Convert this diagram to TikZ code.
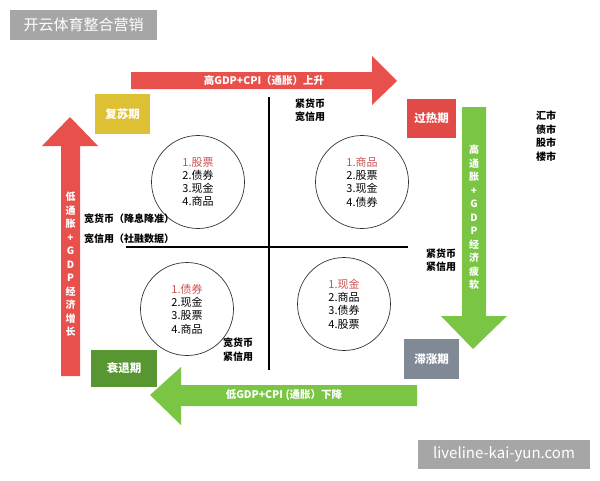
\documentclass[tikz,border=0pt]{standalone}
\usepackage{fontspec}
\setmainfont{Noto Sans CJK SC}
\usetikzlibrary{positioning}
\definecolor{arrowRed}{RGB}{232,80,76}
\definecolor{arrowGreen}{RGB}{122,198,68}
\definecolor{boxYellow}{RGB}{222,192,52}
\definecolor{boxRed}{RGB}{226,74,72}
\definecolor{boxGreen}{RGB}{88,150,50}
\definecolor{boxGray}{RGB}{128,138,150}
\definecolor{tagGray}{RGB}{166,166,166}
\definecolor{topRed}{RGB}{205,80,80}

\tikzset{
  stage/.style={inner sep=0pt, text=white, font=\bfseries\fontsize{11.5}{13}\selectfont},
  ring/.style={circle, draw=black!80, line width=0.7pt, minimum size=93pt, inner sep=0pt},
  asset/.style={align=center, font=\fontsize{11}{13.2}\selectfont},
  note/.style={align=left, font=\bfseries\fontsize{10}{13.5}\selectfont, inner sep=0pt},
  vtext/.style={align=center, text=white, font=\bfseries\fontsize{10}{13.5}\selectfont},
  htext/.style={text=white, font=\bfseries\fontsize{10.5}{11}\selectfont},
  tag/.style={fill=tagGray, text=white, inner sep=0pt}
}

\begin{document}
\begin{tikzpicture}[x=1pt, y=-1pt, line join=round]
\useasboundingbox (0,0) rectangle (600,480);
\fill[white] (0,0) rectangle (600,480);

% header and watermark tags
\node[tag, minimum width=147pt, minimum height=30pt, font=\fontsize{15}{16}\selectfont] (header) at (83.5,25) {开云体育整合营销};
\node[tag, minimum width=172pt, minimum height=29pt, font=\fontsize{15}{16}\selectfont] (site) at (504,454.5) {liveline-kai-yun.com};

% cycle arrows
\fill[arrowRed] (131,72) -- (372,72) -- (372,56) -- (397,81) -- (372,105) -- (372,89) -- (131,89) -- cycle;
\fill[arrowGreen] (462,107) -- (486,107) -- (486,316) -- (507,316) -- (473,349) -- (441,316) -- (462,316) -- cycle;
\fill[arrowGreen] (417,385) -- (181,385) -- (181,367) -- (150,395) -- (181,425) -- (181,406) -- (417,406) -- cycle;
\fill[arrowRed] (61,376) -- (61,146) -- (42,146) -- (70,117) -- (98,146) -- (80,146) -- (80,376) -- cycle;

\node[htext] (upLabel) at (264,80.5) {高GDP+CPI（通胀）上升};
\node[htext] (downLabel) at (284,395.5) {低GDP+CPI (通胀）下降};
\node[vtext] (rightLabel) at (474,217.5) {高\\通\\胀\\+\\G\\D\\P\\经\\济\\疲\\软};
\node[vtext] (leftLabel) at (70.5,264.5) {低\\通\\胀\\+\\G\\D\\P\\经\\济\\增\\长};

% stages
\node[stage, fill=boxYellow, minimum width=55pt, minimum height=40pt] (recovery) at (122.5,114) {复苏期};
\node[stage, fill=boxRed, minimum width=49pt, minimum height=39pt] (overheat) at (431.5,118.5) {过热期};
\node[stage, fill=boxGray, minimum width=55pt, minimum height=40pt] (stagflation) at (431.5,359) {滞涨期};
\node[stage, fill=boxGreen, minimum width=66pt, minimum height=37pt] (recession) at (124,368.5) {衰退期};

% axes
\coordinate (axTop) at (269,97);
\coordinate (axBottom) at (269,370);
\coordinate (axLeft) at (126,247);
\coordinate (axRight) at (408,247);
\draw[line width=1.1pt] (axTop) -- (axBottom);
\draw[line width=1.1pt] (axLeft) -- (axRight);

% quadrants
\node[ring] (ringTL) at (198,182) {};
\node[ring] (ringTR) at (362,182) {};
\node[ring] (ringBL) at (187,309) {};
\node[ring] (ringBR) at (344,304) {};
\node[asset] (assetTL) at (ringTL) {\textcolor{topRed}{1.股票}\\2.债券\\3.现金\\4.商品};
\node[asset] (assetTR) at (ringTR) {\textcolor{topRed}{1.商品}\\2.股票\\3.现金\\4.债券};
\node[asset] (assetBL) at (ringBL) {\textcolor{topRed}{1.债券}\\2.现金\\3.股票\\4.商品};
\node[asset] (assetBR) at (ringBR) {\textcolor{topRed}{1.现金}\\2.商品\\3.债券\\4.股票};

% policy notes
\node[note, anchor=west] (looseA) at (84,219) {宽货币（降息降准）};
\node[note, anchor=west] (looseB) at (84,238.5) {宽信用（社融数据）};
\node[note] (tightLoose) at (310,110) {紧货币\\宽信用};
\node[note] (tightTight) at (441,260) {紧货币\\紧信用};
\node[note] (looseTight) at (238,349.5) {宽货币\\紧信用};
\node[note] (markets) at (546,136) {汇市\\债市\\股市\\楼市};
\end{tikzpicture}
\end{document}
